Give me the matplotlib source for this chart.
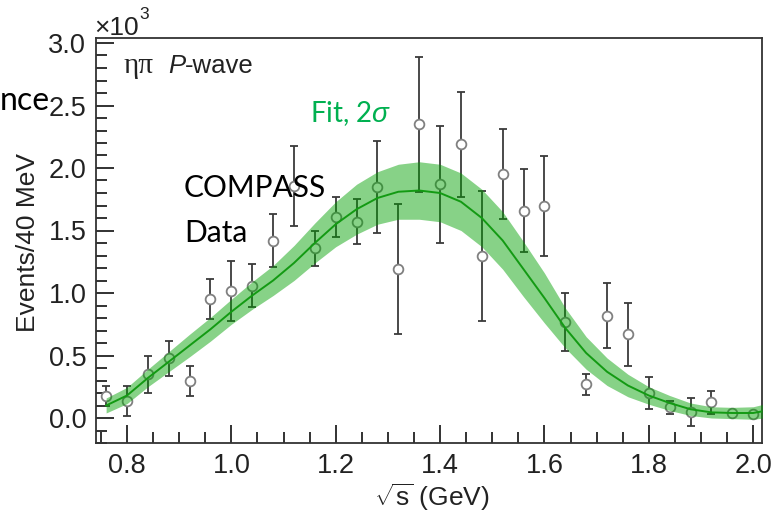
import numpy as np
import matplotlib
matplotlib.use('Agg')
import matplotlib.pyplot as plt
from matplotlib.ticker import MultipleLocator

# data points (x in GeV, y in 10^3 events)
data_x = [0.76, 0.80, 0.84, 0.88, 0.92, 0.96, 1.00, 1.04, 1.08, 1.12, 1.16,
          1.20, 1.24, 1.28, 1.32, 1.36, 1.40, 1.44, 1.48, 1.52, 1.56, 1.60,
          1.64, 1.68, 1.72, 1.76, 1.80, 1.84, 1.88, 1.92, 1.96, 2.00]
data_y = [0.18, 0.14, 0.35, 0.48, 0.30, 0.95, 1.02, 1.06, 1.42, 1.86, 1.36,
          1.61, 1.57, 1.85, 1.19, 2.35, 1.87, 2.19, 1.30, 1.95, 1.66, 1.70,
          0.77, 0.27, 0.82, 0.67, 0.20, 0.085, 0.05, 0.125, 0.04, 0.03]
data_err = [0.08, 0.12, 0.15, 0.14, 0.12, 0.16, 0.24, 0.17, 0.21, 0.32, 0.14,
            0.16, 0.18, 0.37, 0.52, 0.54, 0.47, 0.42, 0.52, 0.36, 0.33, 0.40,
            0.23, 0.085, 0.26, 0.25, 0.13, 0.05, 0.11, 0.095, 0.02, 0.02]

# fit curve and 2 sigma half width
fit_x = [0.76, 0.80, 0.84, 0.88, 0.92, 0.96, 1.00, 1.04, 1.08, 1.12, 1.16,
         1.20, 1.24, 1.28, 1.32, 1.36, 1.40, 1.44, 1.48, 1.52, 1.56, 1.60,
         1.64, 1.68, 1.72, 1.76, 1.80, 1.84, 1.88, 1.92, 1.96, 2.00, 2.02]
fit_y = [0.10, 0.18, 0.32, 0.45, 0.58, 0.71, 0.85, 0.98, 1.10, 1.24, 1.40,
         1.55, 1.67, 1.76, 1.81, 1.82, 1.80, 1.73, 1.60, 1.42, 1.19, 0.96,
         0.72, 0.52, 0.37, 0.26, 0.18, 0.12, 0.07, 0.045, 0.04, 0.04, 0.055]
fit_err = [0.06, 0.065, 0.07, 0.08, 0.09, 0.095, 0.10, 0.11, 0.12, 0.14, 0.16,
           0.18, 0.20, 0.21, 0.22, 0.23, 0.23, 0.23, 0.23, 0.23, 0.22, 0.20,
           0.16, 0.13, 0.11, 0.09, 0.07, 0.06, 0.05, 0.045, 0.045, 0.05, 0.055]

plt.rcParams['mathtext.fontset'] = 'custom'
plt.rcParams['mathtext.rm'] = 'Liberation Sans'
plt.rcParams['mathtext.it'] = 'Liberation Sans:italic'

W, H = 775, 513
fig = plt.figure(figsize=(W / 100, H / 100), dpi=100)
ax = fig.add_axes([96 / W, 1 - 443 / H, (762 - 96) / W, (443 - 38) / H])

ax.errorbar(data_x, data_y, yerr=data_err, fmt='o', ms=7, mfc='white',
            mec='#808080', mew=1.3, ecolor='#3a3a3a', elinewidth=1.3,
            capsize=3, capthick=1.3, zorder=2)

fy = np.array(fit_y)
fe = np.array(fit_err)
ax.fill_between(fit_x, fy - fe, fy + fe, color='#00a000', alpha=0.47,
                lw=0, zorder=3)
ax.plot(fit_x, fit_y, color='#139a13', lw=1.4, zorder=4)

ax.set_xlim(0.7406, 2.017)
ax.set_ylim(-0.2, 3.04)
ax.xaxis.set_major_locator(MultipleLocator(0.2))
ax.xaxis.set_minor_locator(MultipleLocator(0.05))
ax.yaxis.set_major_locator(MultipleLocator(0.5))
ax.yaxis.set_minor_locator(MultipleLocator(0.1))
ax.tick_params(which='both', direction='in', top=False, right=False,
               width=1.3, color='#222222')
ax.tick_params(which='major', length=13, labelsize=19.5, pad=7)
ax.tick_params(which='minor', length=8)
for lab in ax.get_xticklabels() + ax.get_yticklabels():
    lab.set_fontfamily('Liberation Sans')
    lab.set_color('#222222')
for sp in ax.spines.values():
    sp.set_linewidth(1.3)
    sp.set_color('#333333')

def px(x, y):
    return x / W, 1 - y / H

sans = 'Liberation Sans'
fig.text(*px(28, 242), 'Events/40 MeV', rotation=90, ha='center',
         va='center', fontsize=19, family=sans, color='#222222')
fig.text(*px(432, 497), '$\\sqrt{\\mathrm{s}}$ (GeV)', ha='center',
         va='center', fontsize=19, family=sans, color='#222222')
fig.text(*px(94, 35), '×10', ha='left', va='baseline', fontsize=19,
         family=sans, color='#222222')
fig.text(*px(139, 19), '3', ha='left', va='baseline', fontsize=12.5,
         family=sans, color='#222222')

fig.text(*px(124, 73), 'ηπ', ha='left', va='baseline', fontsize=21,
         family='Liberation Serif', color='#222222')
fig.text(*px(168, 73), 'P', ha='left', va='baseline', fontsize=18.5,
         family=sans, style='italic', color='#222222')
fig.text(*px(185, 73), '-wave', ha='left', va='baseline', fontsize=18.5,
         family=sans, color='#222222')

fig.text(*px(310, 122), 'Fit, 2$\\it{\\sigma}$', ha='left', va='baseline',
         fontsize=20, family='Lato', color='#00b050')
fig.text(*px(184, 197), 'COMPASS', ha='left', va='baseline', fontsize=21.5,
         family='Lato', color='black')
fig.text(*px(184, 242), 'Data', ha='left', va='baseline', fontsize=21.5,
         family='Lato', color='black')
fig.text(*px(0, 110), 'nce', ha='left', va='baseline', fontsize=23,
         family='Lato', color='black')

fig.savefig('out.png', dpi=100)
